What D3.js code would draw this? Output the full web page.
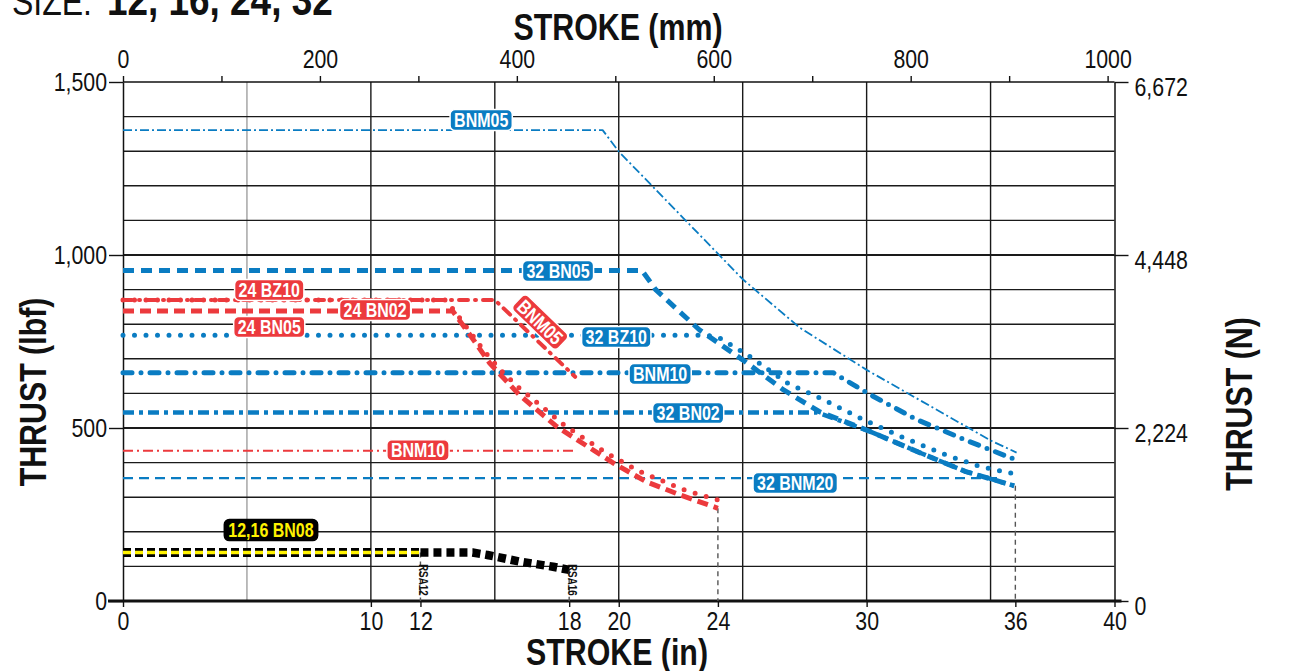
<!DOCTYPE html>
<html><head><meta charset="utf-8">
<script src="https://cdn.jsdelivr.net/npm/d3@7"></script>
<style>
body{margin:0;background:#fff;}
svg{display:block;}
</style></head><body>
<svg id="chart" width="1310" height="671"></svg>
<script>
// ---------------- data ----------------
const strokeTicksIn = [0, 10, 12, 18, 20, 24, 30, 36, 40];
const strokeTicksMm = [0, 100, 200, 300, 400, 500, 600, 700, 800, 900, 1000];
const thrustTicksLbf = [0, 500, 1000, 1500];
const thrustTicksN = [0, 2224, 4448, 6672];

// [stroke (in), thrust (lbf)]
const bnm05Blue = [[0,1361],[19.35,1361],[20,1299],[25,930],[27.3,790],[30,668],[35,464],[36.05,429]];
const bn05Size32 = [[0,955],[20.94,955],[21.5,899],[23.25,784],[25,697],[26.65,610],[28.1,547],[30,494],[32.2,427],[34,374],[35.95,333]];
const bz10Size32 = [[0,768],[23.5,768],[24,763],[25.2,711],[26.8,630],[28.2,584],[29.9,523],[31.4,475],[33.2,422],[34.6,388],[36.05,366]];
const bnm10Blue = [[0,660],[28.65,660],[30,602],[32,525],[34,465],[35.95,410]];
const bn02Size32 = [[0,545],[28.0,545],[30,494],[32.2,427],[34,374],[35.95,333]];
const bnm20Size32 = [[0,355],[35.3,355]];

const bnm05Red = [[0,870],[15.0,870],[18.24,648]];
const bz10Size24 = [[0,870],[13.0,870],[13.4,836],[14.6,720],[15.2,670],[15.9,621],[17.84,506],[19.52,427],[20.8,376],[22.6,322],[24,292]];
const bn02Size24 = [[0,838],[13.3,838],[14.0,769],[14.8,687],[16.0,595],[17.5,504],[19.8,398],[21.1,345],[22.5,306],[24,268]];
const bnm10Red = [[0,434],[18.2,434]];

const bn08Size12 = [[0,140],[12,140]];
const bn08Size16 = [[12,140],[14.1,140],[14.7,133],[16.0,114],[17.35,99],[18.0,90]];

// drop lines to the stroke axis: [stroke (in), thrust (lbf) at top]
const dropLines = [[12,140],[18,90],[24,268],[36,333]];
const rsaNames = ["RSA12", "RSA16"];
const rsaStroke = [12, 18];

const labelTexts = ["BNM05","32 BN05","24 BZ10","24 BN02","24 BN05","32 BZ10","BNM10","32 BN02","BNM10","32 BNM20","12,16 BN08","BNM05"];
const labelStroke = [14.45,17.55,5.9,10.17,5.9,19.9,21.67,22.8,11.9,27.12,5.97,16.83];
const labelThrust = [1390,954,899,841,792,763,656,543,436,341,205,806];
const labelKind = ["blue","blue","red","red","red","blue","blue","blue","red","blue","yellow","red"];

// ---------------- chart ----------------
const BLUE = "#0a7cc2", RED = "#ec3a3d", YELLOW = "#fff200";
const FONT = "'Liberation Sans',Arial,sans-serif";
const K = 0.82; // horizontal condensing of text
const svg = d3.select("#chart").attr("font-family", FONT);

function condense(sel, k = K) {
  sel.each(function () {
    const w = this.getComputedTextLength();
    if (w > 0) {
      this.setAttribute("textLength", w * k);
      this.setAttribute("lengthAdjust", "spacingAndGlyphs");
    }
  });
}

const x = d3.scaleLinear().domain([0, 40]).range([123, 1114.5]);
const xmm = d3.scaleLinear().domain([0, 1007]).range([123, 1114.5]);
const y = d3.scaleLinear().domain([0, 1500]).range([601, 82]);
const yN = d3.scaleLinear().domain([0, 6672]).range([601, 82]);

// grid
const grid = svg.append("g");
grid.selectAll("line.v").data(d3.range(5, 40, 5)).join("line")
  .attr("x1", d => x(d)).attr("x2", d => x(d)).attr("y1", y(0)).attr("y2", y(1500))
  .attr("stroke", d => d === 5 ? "#a0a0a0" : "#1a1a1a").attr("stroke-width", 1.4);
grid.selectAll("line.h").data(d3.range(100, 1500, 100)).join("line")
  .attr("x1", x(0)).attr("x2", x(40)).attr("y1", d => y(d)).attr("y2", d => y(d))
  .attr("stroke", "#1a1a1a").attr("stroke-width", d => d % 500 === 0 ? 2 : 1.4);
grid.append("line").attr("x1", x(0)).attr("x2", x(40)).attr("y1", y(1500)).attr("y2", y(1500))
  .attr("stroke", "#111").attr("stroke-width", 1.5);

function styleAxis(g, size) {
  g.attr("font-family", FONT).attr("font-size", size);
  g.selectAll("text").attr("fill", "#111");
  g.selectAll("line").attr("stroke", "#111").attr("stroke-width", 1.4);
  g.select(".domain").attr("stroke", "#111").attr("stroke-width", 1.5);
}

// left axis
svg.append("g").attr("transform", `translate(${x(0)},0)`)
  .call(d3.axisLeft(y).tickValues(thrustTicksLbf).tickSize(14).tickSizeOuter(0).tickPadding(2).tickFormat(d3.format(",")))
  .call(g => styleAxis(g, 26));
// right axis
svg.append("g").attr("transform", `translate(${x(40)},0)`)
  .call(d3.axisRight(yN).tickValues(thrustTicksN).tickSize(14).tickSizeOuter(0).tickPadding(6).tickFormat(d3.format(",")))
  .call(g => styleAxis(g, 26))
  .call(g => g.selectAll("text").attr("dy", "0.5em"));
// top axis
svg.append("g").attr("transform", `translate(0,${y(1500)})`)
  .call(d3.axisTop(xmm).tickValues(strokeTicksMm).tickSize(6).tickSizeOuter(0).tickPadding(8).tickFormat(d => d % 200 === 0 ? d : ""))
  .call(g => styleAxis(g, 26))
  .call(g => g.select(".domain").remove());
// bottom axis
svg.append("g").attr("transform", `translate(0,${y(0)})`)
  .call(d3.axisBottom(x).tickValues(strokeTicksIn).tickSize(6).tickSizeOuter(0).tickPadding(5))
  .call(g => styleAxis(g, 26))
  .call(g => g.select(".domain").remove());
svg.append("line").attr("x1", x(0) - 15).attr("x2", x(40) + 7).attr("y1", y(0)).attr("y2", y(0))
  .attr("stroke", "#111").attr("stroke-width", 3);

// titles
svg.append("text").attr("x", 618).attr("y", 40).attr("text-anchor", "middle")
  .attr("font-weight", "bold").attr("font-size", 37).attr("fill", "#111").text("STROKE (mm)");
svg.append("text").attr("x", 617).attr("y", 665).attr("text-anchor", "middle")
  .attr("font-weight", "bold").attr("font-size", 37).attr("fill", "#111").text("STROKE (in)");
svg.append("text").attr("transform", "translate(46,392) rotate(-90)").attr("text-anchor", "middle")
  .attr("font-weight", "bold").attr("font-size", 37).attr("fill", "#111").text("THRUST (lbf)");
svg.append("text").attr("transform", "translate(1252,404) rotate(-90)").attr("text-anchor", "middle")
  .attr("font-weight", "bold").attr("font-size", 37).attr("fill", "#111").text("THRUST (N)");
svg.append("text").attr("x", 12).attr("y", 15).attr("fill", "#111").attr("font-size", 39).text("SIZE:");
svg.append("text").attr("x", 107).attr("y", 15).attr("fill", "#111").attr("font-size", 45).attr("font-weight", "bold").text("12, 16, 24, 32");

// drop lines
svg.append("g").selectAll("line").data(dropLines).join("line")
  .attr("x1", d => x(d[0])).attr("x2", d => x(d[0])).attr("y1", d => y(d[1])).attr("y2", y(0))
  .attr("stroke", "#555").attr("stroke-width", 1.4).attr("stroke-dasharray", "5,4");

// series
const line = d3.line().x(d => x(d[0])).y(d => y(d[1]));
const specs = [
  {d: bnm20Size32, c: BLUE, w: 2.2, dash: "10,6", cap: "butt"},
  {d: bn02Size32, c: BLUE, w: 4.5, dash: "11,5,4,5", cap: "butt"},
  {d: bn05Size32, c: BLUE, w: 5, dash: "11,7", cap: "butt"},
  {d: bz10Size32, c: BLUE, w: 5, dash: "0,11.5", cap: "round"},
  {d: bnm10Blue, c: BLUE, w: 5, dash: "9,9,0,9", cap: "round"},
  {d: bnm05Blue, c: BLUE, w: 1.8, dash: "9,3,2,3", cap: "butt"},
  {d: bnm10Red, c: RED, w: 2, dash: "10,4,2,4", cap: "butt"},
  {d: bn02Size24, c: RED, w: 5, dash: "11,6", cap: "butt"},
  {d: bz10Size24, c: RED, w: 5, dash: "0,11.5", cap: "round"},
  {d: bnm05Red, c: RED, w: 4, dash: "9,7,1,7", cap: "round"},
  {d: bn08Size16, c: "#000", w: 8.5, dash: "8,5", cap: "butt"},
  {d: bn08Size12, c: "#000", w: 9, dash: "8,4", cap: "butt"},
  {d: bn08Size12, c: YELLOW, w: 3.5, dash: "8,4", cap: "butt"}
];
svg.append("g").attr("fill", "none").selectAll("path").data(specs).join("path")
  .attr("d", s => line(s.d)).attr("stroke", s => s.c).attr("stroke-width", s => s.w)
  .attr("stroke-dasharray", s => s.dash).attr("stroke-linecap", s => s.cap).attr("stroke-linejoin", "round");

// RSA labels
svg.append("g").selectAll("text").data(rsaNames).join("text")
  .attr("transform", (d, i) => `translate(${x(rsaStroke[i]) - 1},564) rotate(90)`)
  .attr("font-size", 12).attr("font-weight", "bold").attr("fill", "#111").text(d => d);

// badges
const kindStyle = {blue: [BLUE, "#fff"], red: [RED, "#fff"], yellow: ["#000", YELLOW]};
labelTexts.forEach((t, i) => {
  const [bg, fg] = kindStyle[labelKind[i]];
  const angle = (i === 11) ? 44 : 0;
  const g = svg.append("g").attr("transform", `translate(${x(labelStroke[i])},${y(labelThrust[i])}) rotate(${angle})`);
  const txt = g.append("text").attr("class", "badge").attr("text-anchor", "middle").attr("dy", "0.36em")
    .attr("font-size", 19.5).attr("font-weight", "bold").attr("fill", fg).text(t);
  const w = txt.node().getComputedTextLength() * K;
  g.insert("rect", "text").attr("x", -w / 2 - 4).attr("y", -10.5).attr("width", w + 8).attr("height", 21)
    .attr("rx", 5).attr("fill", bg).attr("stroke", labelKind[i] === "yellow" ? "#000" : "#fff").attr("stroke-width", 1.5);
});

// condense every text
condense(svg.selectAll("text"));
</script>
</body></html>
